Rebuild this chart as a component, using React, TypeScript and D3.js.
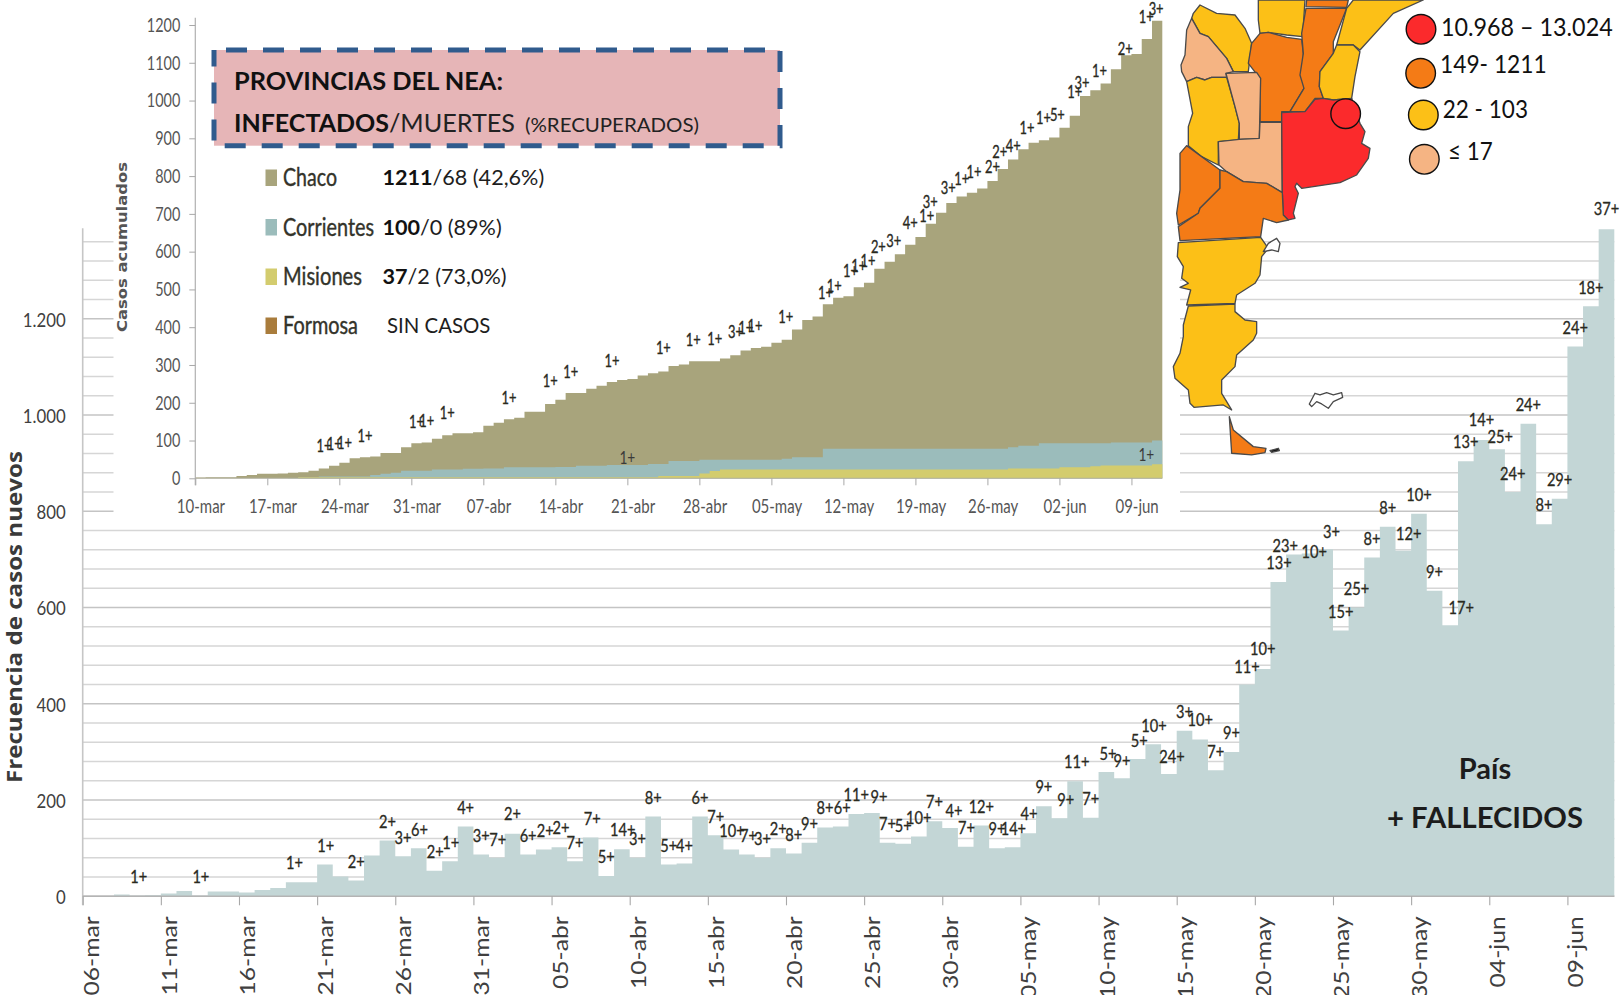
import { useEffect, useRef } from 'react';
import * as d3 from 'd3';

// País: new cases per day from 06-mar (one value per day)
const newCases = [
  0, 0, 4, 1, 2, 6, 11, 1, 10, 10,
  8, 13, 17, 29, 29, 66, 41, 33, 85, 116,
  83, 100, 53, 73, 145, 87, 80, 130, 87, 97,
  102, 73, 122, 42, 98, 80, 166, 66, 68, 166,
  127, 97, 87, 80, 100, 89, 111, 143, 145, 171,
  173, 111, 109, 124, 156, 142, 103, 147, 100, 102,
  131, 187, 162, 239, 163, 258, 245, 285, 316, 254,
  344, 326, 262, 300, 440, 472, 653, 710, 712, 721,
  552, 600, 704, 768, 718, 795, 635, 563, 904, 948,
  929, 840, 982, 773, 826, 1142, 1226, 1386,
];
const mainTickLabels = ['06-mar', '11-mar', '16-mar', '21-mar', '26-mar', '31-mar', '05-abr', '10-abr', '15-abr', '20-abr', '25-abr', '30-abr', '05-may', '10-may', '15-may', '20-may', '25-may', '30-may', '04-jun', '09-jun'];
const mainYTicks = [0, 200, 400, 600, 800, 1000, 1200];
const mainGridValues = d3.range(0, 1361, 40);

// deaths annotations: text, day index, level on the cases scale
const deathText = ['1+', '1+', '1+', '1+', '2+', '2+', '3+', '6+', '2+', '1+', '4+', '3+', '7+', '2+', '6+', '2+', '2+', '7+', '7+', '5+', '14+', '3+', '8+', '5+', '4+', '6+', '7+', '10+', '7+', '3+', '2+', '8+', '9+', '8+', '6+', '11+', '9+', '7+', '5+', '10+', '7+', '4+', '7+', '12+', '9+', '14+', '4+', '9+', '9+', '11+', '7+', '5+', '9+', '5+', '10+', '24+', '3+', '10+', '7+', '9+', '11+', '10+', '13+', '23+', '10+', '3+', '25+', '15+', '8+', '8+', '12+', '10+', '9+', '17+', '13+', '14+', '25+', '24+', '24+', '8+', '29+', '24+', '18+', '37+'];
const deathDay = [3.59, 7.56, 13.55, 15.55, 17.5, 19.5, 20.5, 21.55, 22.55, 23.55, 24.5, 25.5, 26.55, 27.5, 28.5, 29.6, 30.6, 31.5, 32.6, 33.5, 34.55, 35.5, 36.5, 37.5, 38.5, 39.5, 40.5, 41.55, 42.6, 43.5, 44.5, 45.5, 46.5, 47.5, 48.6, 49.5, 50.95, 51.5, 52.5, 53.5, 54.5, 55.75, 56.55, 57.5, 58.5, 59.55, 60.55, 61.5, 62.9, 63.6, 64.5, 65.6, 66.5, 67.6, 68.55, 69.7, 70.5, 71.5, 72.5, 73.5, 74.5, 75.5, 76.55, 76.95, 78.8, 79.9, 81.5, 80.5, 82.5, 83.5, 84.85, 85.5, 86.5, 88.2, 88.5, 89.5, 90.7, 91.5, 92.5, 93.5, 94.5, 95.5, 96.5, 97.5];
const deathLevel = [39.5, 41, 69, 104.5, 72, 155, 122, 138, 93, 111, 183, 126, 117, 170, 126, 136, 141, 111, 161, 81, 138, 118, 204, 104, 105, 204, 165, 136, 125, 118, 139, 127, 150, 183, 183, 210, 206, 150, 147, 162, 196, 178, 142, 185, 140, 140, 170, 226, 200, 278, 203, 295, 280, 323, 353, 289, 383, 366, 300, 340, 477, 513, 693, 728, 716, 757, 638, 590, 743, 807, 752, 834, 674, 598, 943, 990, 955, 877, 1021, 813, 865, 1181, 1264, 1427];

// NEA provinces: accumulated cases from 10-mar
const chaco = [
  2, 3, 3, 3, 6, 9, 12, 12, 13, 15,
  16, 20, 26, 33, 41, 53, 56, 58, 67, 67,
  82, 93, 95, 105, 114, 119, 119, 122, 139, 147,
  156, 160, 176, 176, 197, 208, 226, 226, 237, 245,
  255, 260, 263, 272, 278, 283, 297, 301, 310, 310,
  310, 317, 326, 338, 345, 348, 359, 367, 394, 419,
  428, 461, 478, 482, 506, 518, 555, 573, 593, 618,
  639, 674, 703, 729, 746, 756, 767, 787, 819, 844,
  871, 888, 895, 902, 928, 960, 1012, 1027, 1045, 1083,
  1120, 1123, 1163, 1211,
];
const corrientes = [
  0, 0, 0, 0, 0, 0, 0, 0, 0, 1,
  3, 3, 5, 5, 5, 5, 5, 9, 12, 15,
  20, 20, 20, 23, 23, 23, 25, 25, 26, 26,
  29, 29, 29, 29, 29, 30, 30, 33, 33, 33,
  35, 35, 35, 35, 38, 38, 46, 46, 46, 49,
  49, 49, 49, 49, 49, 49, 49, 52, 56, 56,
  56, 78, 78, 78, 78, 78, 78, 78, 78, 78,
  78, 78, 78, 78, 78, 78, 78, 78, 78, 82,
  86, 86, 93, 93, 93, 93, 93, 93, 93, 95,
  95, 95, 95, 100,
];
const misiones = [
  0, 0, 0, 0, 0, 0, 0, 0, 0, 0,
  3, 3, 3, 3, 3, 3, 3, 3, 3, 3,
  3, 3, 3, 3, 3, 3, 3, 3, 3, 3,
  3, 3, 3, 3, 3, 3, 3, 3, 3, 3,
  3, 3, 3, 3, 3, 6, 6, 6, 6, 13,
  19, 23, 23, 23, 23, 23, 23, 23, 23, 23,
  23, 23, 23, 23, 23, 23, 23, 23, 23, 23,
  23, 23, 23, 23, 23, 23, 23, 23, 23, 26,
  26, 26, 26, 26, 29, 29, 29, 32, 34, 34,
  34, 34, 34, 37,
];
const insetTickLabels = ['10-mar', '17-mar', '24-mar', '31-mar', '07-abr', '14-abr', '21-abr', '28-abr', '05-may', '12-may', '19-may', '26-may', '02-jun', '09-jun'];
const insetYTicks = d3.range(0, 1201, 100);

const insetDeathText = ['1+', '1+', '1+', '1+', '1+', '1+', '1+', '1+', '1+', '1+', '1+', '1+', '1+', '1+', '3+', '1+', '1+', '1+', '1+', '1+', '1+', '1+', '1+', '2+', '3+', '4+', '1+', '3+', '3+', '1+', '1+', '2+', '2+', '4+', '1+', '1+', '5+', '1+', '3+', '1+', '2+', '1+', '3+'];
const insetDeathDay = [12.5, 13.5, 14.5, 16.5, 21.5, 22.5, 24.5, 30.5, 34.5, 36.5, 40.5, 45.5, 48.4, 50.5, 52.5, 53.5, 54.4, 57.4, 61.25, 62.1, 63.7, 64.5, 65.4, 66.4, 67.9, 69.5, 71.1, 71.45, 73.2, 74.5, 75.7, 77.5, 78.2, 79.5, 80.85, 82.45, 83.8, 85.5, 86.2, 87.9, 90.4, 92.45, 93.4];
const insetDeathLevel = [86, 90, 94, 112, 148, 152, 172, 213, 258, 282, 311, 344, 366, 369, 388, 397, 403, 428, 490, 510, 550, 563, 575, 613, 629, 677, 694, 731, 769, 791, 812, 823, 863, 880, 928, 955, 962, 1022, 1046, 1078, 1136, 1220, 1243];
const corrientesDeathDay = [42, 92.45];
const corrientesDeathLevel = [55, 62];

const legendNames = ['Chaco', 'Corrientes', 'Misiones', 'Formosa'];
const legendColors = ['#a8a47c', '#9bbcbb', '#d3cc6e', '#a97c3c'];
const legendBold = ['1211', '100', '37', ''];
const legendRest = ['/68 (42,6%)', '/0 (89%)', '/2 (73,0%)', 'SIN CASOS'];

const mapLegendLabels = ['10.968 – 13.024', '149- 1211', '22 - 103', '≤ 17'];
const mapColors = { red: '#fb2a2c', orange: '#f47b16', yellow: '#fcc017', peach: '#f5b483' };

// rough province outlines, traced at 3x from the map corner
const provinces: [string, number[][]][] = [
  [mapColors.yellow, [[220, 40], [240, 15], [290, 40], [345, 45], [375, 85], [395, 130], [385, 215], [340, 215], [320, 175], [265, 110], [240, 100], [215, 55]]],
  [mapColors.peach, [[215, 55], [240, 100], [265, 110], [320, 175], [340, 215], [318, 220], [320, 232], [275, 232], [255, 240], [230, 232], [200, 245], [185, 215], [183, 195], [195, 165], [200, 90]]],
  [mapColors.yellow, [[415, 0], [555, 0], [548, 110], [500, 105], [445, 97], [420, 100], [415, 60]]],
  [mapColors.orange, [[420, 100], [445, 97], [500, 112], [545, 118], [550, 160], [552, 265], [510, 335], [485, 335], [485, 365], [420, 365], [420, 235], [385, 190], [395, 130]]],
  [mapColors.orange, [[558, 25], [680, 25], [640, 125], [640, 160], [600, 215], [598, 260], [610, 295], [585, 295], [555, 335], [510, 335], [552, 265], [540, 225], [550, 160], [545, 100]]],
  [mapColors.orange, [[560, 0], [685, 0], [680, 22], [558, 20]]],
  [mapColors.yellow, [[700, 0], [910, 0], [820, 40], [720, 150], [700, 135], [650, 135], [680, 25]]],
  [mapColors.yellow, [[650, 135], [700, 135], [720, 155], [705, 230], [695, 295], [640, 300], [610, 295], [598, 260], [600, 215], [640, 160]]],
  [mapColors.yellow, [[200, 245], [230, 232], [255, 240], [275, 232], [320, 232], [345, 320], [358, 370], [355, 420], [295, 425], [295, 495], [245, 470], [205, 437], [205, 380], [218, 340]]],
  [mapColors.peach, [[318, 220], [410, 217], [422, 235], [418, 415], [358, 418], [358, 370], [345, 320]]],
  [mapColors.peach, [[295, 425], [358, 418], [418, 415], [420, 367], [485, 367], [487, 578], [440, 550], [370, 545], [320, 515], [297, 495]]],
  [mapColors.red, [[485, 338], [555, 335], [585, 298], [610, 295], [640, 300], [695, 295], [720, 370], [735, 395], [725, 430], [750, 445], [745, 475], [710, 525], [660, 548], [545, 565], [530, 550], [525, 560], [535, 580], [520, 640], [525, 655], [505, 660], [490, 645], [487, 578]]],
  [mapColors.orange, [[200, 437], [245, 470], [300, 510], [300, 565], [240, 625], [235, 640], [175, 675], [170, 640], [180, 570], [180, 460]]],
  [mapColors.orange, [[300, 510], [320, 515], [370, 545], [440, 550], [487, 578], [490, 645], [505, 660], [470, 668], [430, 655], [422, 710], [180, 722], [175, 680], [235, 640], [240, 625], [300, 565]]],
  [mapColors.yellow, [[175, 728], [422, 712], [445, 745], [425, 770], [420, 825], [405, 850], [350, 885], [345, 910], [200, 915], [212, 870], [180, 862], [205, 850], [185, 835], [190, 800], [172, 770]]],
  [mapColors.yellow, [[205, 918], [345, 912], [345, 935], [375, 960], [410, 965], [410, 1000], [400, 1020], [350, 1065], [345, 1100], [305, 1140], [305, 1180], [335, 1230], [310, 1215], [222, 1222], [210, 1210], [205, 1170], [165, 1135], [160, 1100], [180, 1060], [190, 1010], [190, 975]]],
  [mapColors.orange, [[328, 1250], [340, 1290], [400, 1340], [438, 1345], [435, 1358], [395, 1365], [335, 1360]]],
  ['#111', [[450, 1352], [475, 1345], [478, 1352], [455, 1357]]],
  ['#fff', [[568, 1212], [585, 1180], [600, 1185], [620, 1178], [640, 1185], [665, 1178], [668, 1192], [640, 1205], [625, 1225], [605, 1212], [590, 1205], [575, 1220]]],
  ['#fff', [[445, 730], [470, 715], [480, 730], [475, 755], [455, 750], [430, 755]]],
];

const CAL = 'Lato, "Open Sans", sans-serif';

export default function App() {
  const ref = useRef<SVGSVGElement>(null);

  useEffect(() => {
    const svg = d3.select(ref.current);
    svg.selectAll('*').remove();

    // ---- main chart ----
    const x = d3.scaleLinear().domain([0, newCases.length]).range([82.7, 1614.3]);
    const y = d3.scaleLinear().domain([0, 1200]).range([896.3, 318.7]);
    const dayW = x(1) - x(0);

    svg.append('g').selectAll('line').data(mainGridValues).join('line')
      .attr('x1', x(0)).attr('x2', x(newCases.length))
      .attr('y1', d => y(d)).attr('y2', d => y(d))
      .attr('stroke', d => (d % 200 === 0 ? '#c4c4c4' : '#d6d6d6'))
      .attr('stroke-width', 1.4);

    const stepArea = (xs: any, ys: any) =>
      d3.area<number>().curve(d3.curveStepAfter)
        .x((_, i) => xs(i)).y0(ys(0)).y1(d => ys(d));
    const closeStep = (v: number[]) => [...v, v[v.length - 1]];

    svg.append('path').attr('d', stepArea(x, y)(closeStep(newCases))).attr('fill', '#c3d6d6');

    svg.append('line').attr('x1', x(0)).attr('x2', x(0)).attr('y1', y(1388)).attr('y2', y(0) + 9)
      .attr('stroke', '#c6c6c6').attr('stroke-width', 1.6);
    svg.append('line').attr('x1', x(0)).attr('x2', x(newCases.length)).attr('y1', y(0)).attr('y2', y(0))
      .attr('stroke', '#b4b4b4').attr('stroke-width', 1.5);

    const numFmt = d3.formatLocale({ decimal: ',', thousands: '.', grouping: [3], currency: ['', ''] }).format(',d');
    const yAxisG = svg.append('g').attr('transform', `translate(${x(0)},0)`)
      .call(d3.axisLeft(y).tickValues(mainYTicks).tickSize(0).tickFormat(d => numFmt(d as number)));
    yAxisG.select('.domain').remove();
    yAxisG.selectAll('text').attr('font-family', CAL).attr('font-size', 20).attr('fill', '#404040')
      .attr('x', 0).attr('transform', 'translate(-17,1) scale(0.84,1)');

    const mainTicks = mainTickLabels.map((_, i) => i * 5);
    const xAxisG = svg.append('g').attr('transform', `translate(0,${y(0)})`)
      .call(d3.axisBottom(x).tickValues(mainTicks).tickSize(9).tickFormat((_, i) => mainTickLabels[i]));
    xAxisG.select('.domain').remove();
    xAxisG.selectAll('line').attr('stroke', '#a8a8a8').attr('stroke-width', 1.1);
    xAxisG.selectAll('text')
      .attr('font-family', CAL).attr('font-size', 22).attr('fill', '#404040')
      .attr('text-anchor', 'end').attr('y', 0).attr('dy', '0.35em')
      .attr('transform', `translate(${dayW / 2},20) rotate(-90) scale(1.12,1)`);

    // labels squeezed sideways: the reference type is a condensed face
    svg.append('g').selectAll('text').data(deathText).join('text')
      .attr('transform', (_, i) => `translate(${x(deathDay[i])},${y(deathLevel[i])}) scale(0.86,1)`)
      .attr('dy', '0.35em').attr('text-anchor', 'middle')
      .attr('font-family', CAL).attr('font-size', 17)
      .attr('fill', '#2a2a1e').attr('stroke', '#2a2a1e').attr('stroke-width', 0.3)
      .text(d => d);

    svg.append('text').attr('transform', 'translate(22,783) rotate(-90)')
      .attr('font-family', '"Open Sans", sans-serif').attr('font-weight', 700).attr('font-size', 21)
      .attr('fill', '#3a3a3a').attr('textLength', 332).attr('lengthAdjust', 'spacingAndGlyphs')
      .text('Frecuencia de casos nuevos');

    svg.append('text').attr('x', 1485).attr('y', 779).attr('text-anchor', 'middle')
      .attr('font-family', CAL).attr('font-weight', 700).attr('font-size', 29).attr('fill', '#1c1c1c').text('País');
    svg.append('text').attr('x', 1485).attr('y', 828).attr('text-anchor', 'middle')
      .attr('font-family', CAL).attr('font-weight', 700).attr('font-size', 29).attr('fill', '#1c1c1c')
      .attr('textLength', 196).attr('lengthAdjust', 'spacingAndGlyphs').text('+ FALLECIDOS');

    // ---- inset: NEA ----
    svg.append('rect').attr('x', 113.5).attr('y', 0).attr('width', 1180 - 113.5).attr('height', 521).attr('fill', '#fff');

    const ix = d3.scaleLinear().domain([0, chaco.length]).range([195.3, 1162.3]);
    const iy = d3.scaleLinear().domain([0, 1200]).range([478.3, 25]);
    const iDayW = ix(1) - ix(0);

    svg.append('path').attr('d', stepArea(ix, iy)(closeStep(chaco))).attr('fill', legendColors[0]);
    svg.append('path').attr('d', stepArea(ix, iy)(closeStep(corrientes))).attr('fill', legendColors[1]);
    svg.append('path').attr('d', stepArea(ix, iy)(closeStep(misiones))).attr('fill', legendColors[2]);

    svg.append('line').attr('x1', ix(0)).attr('x2', ix(0)).attr('y1', 17.7).attr('y2', iy(0) + 7)
      .attr('stroke', '#b0b0b0').attr('stroke-width', 1.2);
    svg.append('line').attr('x1', ix(0)).attr('x2', ix(chaco.length)).attr('y1', iy(0)).attr('y2', iy(0))
      .attr('stroke', '#b0b0a0').attr('stroke-width', 1.1);

    const iyAxis = svg.append('g').attr('transform', `translate(${ix(0)},0)`)
      .call(d3.axisLeft(iy).tickValues(insetYTicks).tickSize(6).tickFormat(d => String(d)));
    iyAxis.select('.domain').remove();
    iyAxis.selectAll('line').attr('stroke', '#a8a8a8');
    iyAxis.selectAll('text').attr('font-family', CAL).attr('font-size', 19.5).attr('fill', '#555')
      .attr('x', 0).attr('transform', 'translate(-15,0) scale(0.74,1)');

    const iTicks = insetTickLabels.map((_, i) => i * 7);
    const ixAxis = svg.append('g').attr('transform', `translate(0,${iy(0)})`)
      .call(d3.axisBottom(ix).tickValues(iTicks).tickSize(7).tickFormat((_, i) => insetTickLabels[i]));
    ixAxis.select('.domain').remove();
    ixAxis.selectAll('line').attr('stroke', '#a8a8a8');
    ixAxis.selectAll('text').attr('font-family', CAL).attr('font-size', 20).attr('fill', '#555')
      .attr('y', 0).attr('dy', 0).attr('transform', `translate(${iDayW / 2},35) scale(0.75,1)`);

    svg.append('g').selectAll('text').data(insetDeathText).join('text')
      .attr('transform', (_, i) => `translate(${ix(insetDeathDay[i])},${iy(insetDeathLevel[i])}) scale(0.76,1)`)
      .attr('dy', '0.35em').attr('text-anchor', 'middle')
      .attr('font-family', CAL).attr('font-size', 17)
      .attr('fill', '#2a2a1e').attr('stroke', '#2a2a1e').attr('stroke-width', 0.35)
      .text(d => d);
    svg.append('g').selectAll('text').data(corrientesDeathDay).join('text')
      .attr('transform', (d, i) => `translate(${ix(d)},${iy(corrientesDeathLevel[i])}) scale(0.76,1)`)
      .attr('dy', '0.35em').attr('text-anchor', 'middle')
      .attr('font-family', CAL).attr('font-size', 18).attr('fill', '#3a3a3a')
      .text('1+');

    svg.append('text').attr('transform', 'translate(127,332) rotate(-90)')
      .attr('font-family', '"DejaVu Sans", sans-serif').attr('font-weight', 700).attr('font-size', 13.5)
      .attr('fill', '#555').attr('textLength', 170).attr('lengthAdjust', 'spacingAndGlyphs')
      .text('Casos acumulados');

    // title box
    svg.append('rect').attr('x', 214).attr('y', 50).attr('width', 566).attr('height', 95.7)
      .attr('fill', '#e6b5b7').attr('stroke', '#305b8d').attr('stroke-width', 5)
      .attr('stroke-dasharray', '21 16').attr('stroke-dashoffset', 25);

    svg.append('text').attr('x', 234).attr('y', 90)
      .attr('font-family', CAL).attr('font-weight', 700).attr('font-size', 25).attr('fill', '#111')
      .attr('textLength', 269).attr('lengthAdjust', 'spacingAndGlyphs').text('PROVINCIAS DEL NEA:');
    svg.append('text').attr('x', 234).attr('y', 131.5)
      .attr('font-family', CAL).attr('font-weight', 700).attr('font-size', 25).attr('fill', '#111')
      .attr('textLength', 155).attr('lengthAdjust', 'spacingAndGlyphs').text('INFECTADOS');
    svg.append('text').attr('x', 389).attr('y', 131.5)
      .attr('font-family', CAL).attr('font-size', 25).attr('fill', '#222')
      .attr('textLength', 126).attr('lengthAdjust', 'spacingAndGlyphs').text('/MUERTES');
    svg.append('text').attr('x', 525).attr('y', 131.5)
      .attr('font-family', CAL).attr('font-size', 20).attr('fill', '#222')
      .attr('textLength', 174).attr('lengthAdjust', 'spacingAndGlyphs').text('(%RECUPERADOS)');

    // legend
    const legendRowY = [186, 235.5, 285, 334];
    const legendNameW = [54, 91, 79, 75];
    const legendValueSize = [21.6, 21.6, 21.6, 20.4];
    legendNames.forEach((name, i) => {
      svg.append('rect').attr('x', 265.5).attr('y', legendRowY[i] - 16.5).attr('width', 11.5).attr('height', 16.5).attr('fill', legendColors[i]);
      svg.append('text').attr('x', 283).attr('y', legendRowY[i]).attr('font-family', CAL).attr('font-size', 25)
        .attr('fill', '#33332a').attr('stroke', '#33332a').attr('stroke-width', 0.4)
        .attr('textLength', legendNameW[i]).attr('lengthAdjust', 'spacingAndGlyphs').text(name);
      const t = svg.append('text').attr('x', i === 3 ? 387 : 382.4).attr('y', legendRowY[i] - 1)
        .attr('font-family', CAL).attr('font-size', legendValueSize[i]).attr('fill', '#1e1e1e');
      if (legendBold[i]) t.append('tspan').attr('font-weight', 700).attr('fill', '#111').text(legendBold[i]);
      t.append('tspan').text(legendRest[i]);
    });

    // ---- map ----
    const outline = d3.line().curve(d3.curveLinearClosed);
    const map = svg.append('g').attr('transform', 'translate(1120,0) scale(0.3333)');
    map.selectAll('path').data(provinces).join('path')
      .attr('d', d => outline(d[1] as [number, number][]))
      .attr('fill', d => d[0]).attr('stroke', '#4a4a4a').attr('stroke-width', 4).attr('stroke-linejoin', 'round');

    const mapCircles = [[1120 + 903 / 3, 29.3, mapColors.red], [1120 + 902 / 3, 73.3, mapColors.orange], [1120 + 910 / 3, 115, mapColors.yellow], [1120 + 913 / 3, 159.3, mapColors.peach], [1120 + 677 / 3, 113.7, mapColors.red]] as [number, number, string][];
    svg.append('g').selectAll('circle').data(mapCircles).join('circle')
      .attr('cx', d => d[0]).attr('cy', d => d[1]).attr('r', 14.8)
      .attr('fill', d => d[2]).attr('stroke', '#111').attr('stroke-width', 1.4);

    const mapLegendX = [1441, 1440, 1442.7, 1448];
    const mapLegendY = [36, 73, 118, 159.5];
    const mapLegendW = [171.7, 106.7, 85.3, 44.7];
    svg.append('g').selectAll('text').data(mapLegendLabels).join('text')
      .attr('x', (_, i) => mapLegendX[i]).attr('y', (_, i) => mapLegendY[i])
      .attr('font-family', CAL).attr('font-size', 25).attr('fill', '#111')
      .attr('textLength', (_, i) => mapLegendW[i]).attr('lengthAdjust', 'spacingAndGlyphs')
      .text(d => d);
  }, []);

  return <svg ref={ref} width={1620} height={995} style={{ position: 'absolute', left: 0, top: 0, background: '#fff' }} />;
}
